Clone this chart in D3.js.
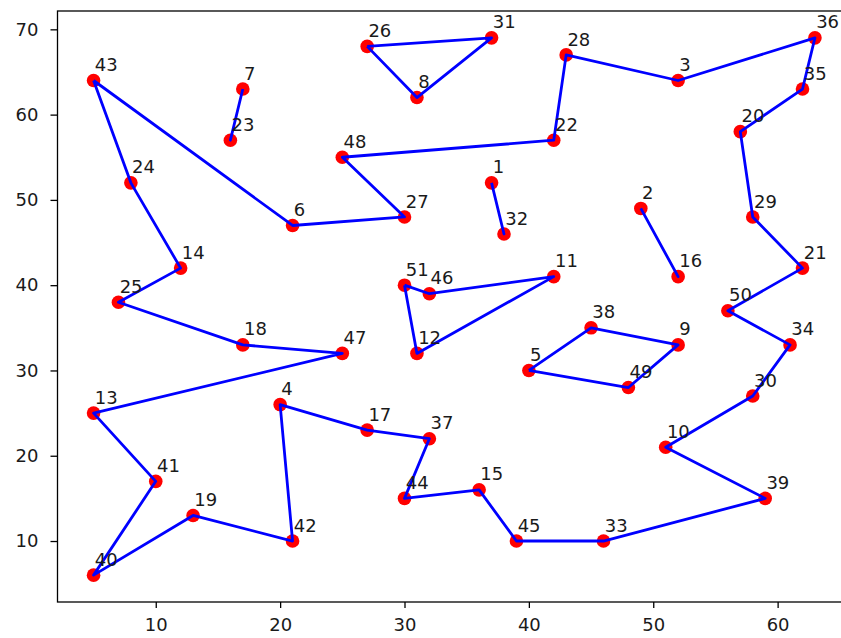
<!DOCTYPE html>
<html>
<head>
<meta charset="utf-8">
<script src="https://cdn.jsdelivr.net/npm/d3@7"></script>
<style>
  html, body { margin: 0; padding: 0; background: #fff; overflow: hidden; }
  svg text { font-family: "DejaVu Sans", sans-serif; }
</style>
</head>
<body>
<div id="chart"></div>
<script>
// city coordinates (node ids 1..51)
const nodeIds = d3.range(1, 52);
const xs = [37, 49, 52, 20, 40, 21, 17, 31, 52, 51, 42, 31, 5, 12, 36, 52, 27, 17, 13, 57,
            62, 42, 16, 8, 7, 27, 30, 43, 58, 58, 37, 38, 46, 61, 62, 63, 32, 45, 59, 5,
            10, 21, 5, 30, 39, 32, 25, 25, 48, 56, 30];
const ys = [52, 49, 64, 26, 30, 47, 63, 62, 33, 21, 41, 32, 25, 42, 16, 41, 23, 33, 13, 58,
            42, 57, 57, 52, 38, 68, 48, 67, 48, 27, 69, 46, 10, 33, 63, 69, 22, 35, 15, 6,
            17, 10, 64, 15, 10, 39, 32, 55, 28, 37, 40];

// sub-tours, each closed back to its first node
const tours = [
  [43, 24, 14, 25, 18, 47, 13, 41, 40, 19, 42, 4, 17, 37, 44, 15, 45, 33, 39, 10, 30, 34,
   50, 21, 29, 20, 35, 36, 3, 28, 22, 48, 27, 6],
  [7, 23],
  [26, 31, 8],
  [1, 32],
  [2, 16],
  [51, 46, 11, 12],
  [5, 38, 9, 49]
];

const xTicks = [10, 20, 30, 40, 50, 60];
const yTicks = [10, 20, 30, 40, 50, 60, 70];

const width = 841, height = 638;
const margin = { top: 11, left: 57.5, bottom: 602, right: 851 };

const svg = d3.select('#chart').append('svg')
  .attr('width', width)
  .attr('height', height);

const x = d3.scaleLinear().domain([2.1, 65.9]).range([margin.left, margin.right]);
const y = d3.scaleLinear().domain([2.85, 72.15]).range([margin.bottom, margin.top]);

const pts = nodeIds.map((id, i) => ({ id: id, x: xs[i], y: ys[i] }));
const byId = new Map(pts.map(p => [p.id, p]));

// points
svg.append('g')
  .selectAll('circle')
  .data(pts)
  .enter()
  .append('circle')
  .attr('cx', d => x(d.x))
  .attr('cy', d => y(d.y))
  .attr('r', 6.8)
  .attr('fill', '#ff0000');

// tour lines
const line = d3.line()
  .x(d => x(d.x))
  .y(d => y(d.y));

svg.append('g')
  .selectAll('path')
  .data(tours)
  .enter()
  .append('path')
  .attr('d', t => line(t.concat([t[0]]).map(id => byId.get(id))))
  .attr('fill', 'none')
  .attr('stroke', '#0000ff')
  .attr('stroke-width', 2.8)
  .attr('stroke-linejoin', 'round');

// node labels
svg.append('g')
  .selectAll('text')
  .data(pts)
  .enter()
  .append('text')
  .attr('x', d => x(d.x + 0.1))
  .attr('y', d => y(d.y + 1.1))
  .attr('font-size', 18)
  .attr('fill', '#1a1a1a')
  .text(d => d.id);

// axes
const xAxis = d3.axisBottom(x).tickValues(xTicks).tickSize(6).tickPadding(10);
const yAxis = d3.axisLeft(y).tickValues(yTicks).tickSize(7).tickPadding(12);

const gx = svg.append('g')
  .attr('transform', 'translate(0,' + margin.bottom + ')')
  .call(xAxis);
const gy = svg.append('g')
  .attr('transform', 'translate(' + margin.left + ',0)')
  .call(yAxis);

[gx, gy].forEach(g => {
  g.select('.domain').remove();
  g.selectAll('line').attr('stroke', '#000').attr('stroke-width', 1.3);
  g.selectAll('text').attr('font-size', 18).attr('fill', '#1a1a1a').attr('font-family', 'DejaVu Sans');
});

// frame
svg.append('rect')
  .attr('x', margin.left)
  .attr('y', margin.top)
  .attr('width', margin.right - margin.left)
  .attr('height', margin.bottom - margin.top)
  .attr('fill', 'none')
  .attr('stroke', '#000')
  .attr('stroke-width', 1.3);
</script>
</body>
</html>
